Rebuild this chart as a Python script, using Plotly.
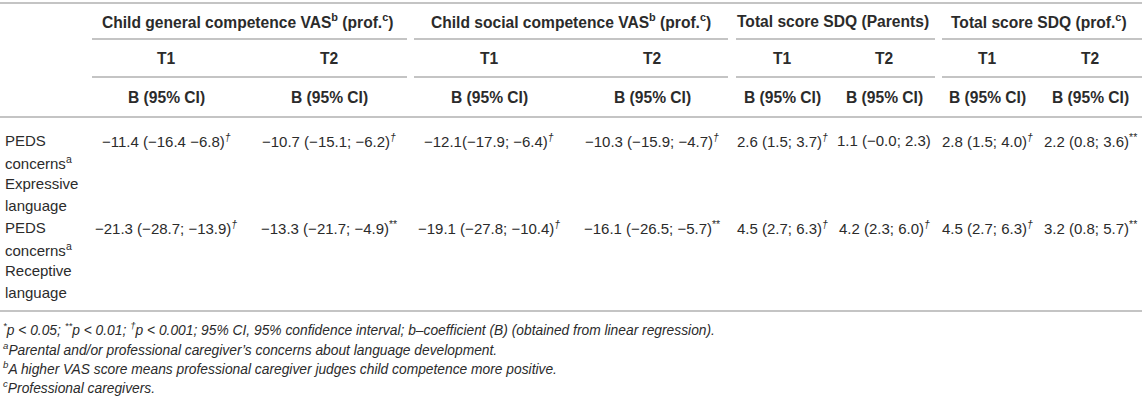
import plotly.graph_objects as go

# table content
group_headers = [
    "Child general competence VAS<sup>b</sup> (prof.<sup>c</sup>)",
    "Child social competence VAS<sup>b</sup> (prof.<sup>c</sup>)",
    "Total score SDQ (Parents)",
    "Total score SDQ (prof.<sup>c</sup>)",
]
timepoints = ["T1", "T2", "T1", "T2", "T1", "T2", "T1", "T2"]
stat_label = "B (95% CI)"

row_labels = [
    ["PEDS", "concerns<sup>a</sup>", "Expressive", "language"],
    ["PEDS", "concerns<sup>a</sup>", "Receptive", "language"],
]
expressive_cells = [
    "−11.4 (−16.4 −6.8)", "−10.7 (−15.1; −6.2)", "−12.1(−17.9; −6.4)",
    "−10.3 (−15.9; −4.7)", "2.6 (1.5; 3.7)", "1.1 (−0.0; 2.3)",
    "2.8 (1.5; 4.0)", "2.2 (0.8; 3.6)",
]
expressive_sig = ["†", "†", "†", "†", "†", "", "†", "**"]
receptive_cells = [
    "−21.3 (−28.7; −13.9)", "−13.3 (−21.7; −4.9)", "−19.1 (−27.8; −10.4)",
    "−16.1 (−26.5; −5.7)", "4.5 (2.7; 6.3)", "4.2 (2.3; 6.0)",
    "4.5 (2.7; 6.3)", "3.2 (0.8; 5.7)",
]
receptive_sig = ["†", "**", "†", "**", "†", "†", "†", "**"]

footnotes = [
    "<sup>*</sup>p < 0.05; <sup>**</sup>p < 0.01; <sup>†</sup>p < 0.001; 95% CI, 95% confidence interval; "
    "b–coefficient (B) (obtained from linear regression).",
    "<sup>a</sup>Parental and/or professional caregiver’s concerns about language development.",
    "<sup>b</sup>A higher VAS score means professional caregiver judges child competence more positive.",
    "<sup>c</sup>Professional caregivers.",
]

# layout (pixel grid of the page)
W, H = 1142, 408
col_x = [166, 329, 489, 652, 782, 884, 987, 1090]
group_spans = [(92, 407), (414, 728), (736, 935), (942, 1142)]
y_top, y_group, y_ul1, y_time, y_ul2, y_stat, y_head_end = 3, 21, 39, 58, 77, 97, 117
row_y = [[140, 162, 183, 205], [227, 249, 270, 292]]
y_bottom = 311
foot_y = [329, 349, 368, 387]

FONT = "Liberation Sans, Arial, Helvetica, sans-serif"
TEXT = "#2b2b2b"
RULE = "#c4c4c4"

fig = go.Figure()


def text(x, y, s, size=15, anchor="center"):
    fig.add_annotation(x=x, y=y, xref="x", yref="y", text=s, showarrow=False,
                       xanchor=anchor, yanchor="middle",
                       font=dict(family=FONT, size=size, color=TEXT))


def rule(x0, x1, y):
    fig.add_shape(type="line", xref="x", yref="y", x0=x0, x1=x1, y0=y, y1=y,
                  line=dict(color=RULE, width=2))


def sig(s):
    if s == "†":
        return "<sup><i>†</i></sup>"
    if s:
        return "<sup>" + s + "</sup>"
    return ""


rule(0, W, y_top)
for i, head in enumerate(group_headers):
    x0, x1 = group_spans[i]
    text((col_x[2 * i] + col_x[2 * i + 1]) / 2, y_group, "<b>" + head + "</b>", size=15.6)
    rule(x0, x1, y_ul1)
    rule(x0, x1, y_ul2)

for x, t in zip(col_x, timepoints):
    text(x, y_time, "<b>" + t + "</b>", size=15.6)
    text(x, y_stat, "<b>" + stat_label + "</b>", size=15.6)
rule(0, W, y_head_end)

for r, (cells, sigs) in enumerate([(expressive_cells, expressive_sig),
                                   (receptive_cells, receptive_sig)]):
    for line, y in zip(row_labels[r], row_y[r]):
        text(3, y, line, anchor="left")
    for x, c, s in zip(col_x, cells, sigs):
        text(x, row_y[r][0], c + sig(s))

rule(0, W, y_bottom)
for y, f in zip(foot_y, footnotes):
    text(1, y, "<i>" + f + "</i>", size=13.8, anchor="left")

fig.update_xaxes(range=[0, W], visible=False, fixedrange=True)
fig.update_yaxes(range=[H, 0], visible=False, fixedrange=True)
fig.update_layout(width=W, height=H, margin=dict(l=0, r=0, t=0, b=0),
                  paper_bgcolor="white", plot_bgcolor="white", showlegend=False)

# drop the browser's default 8px body margin so the table sits at the page corner
fig.write_html("out.html", config={"displayModeBar": False},
               post_script="document.body.style.margin = '0';")
